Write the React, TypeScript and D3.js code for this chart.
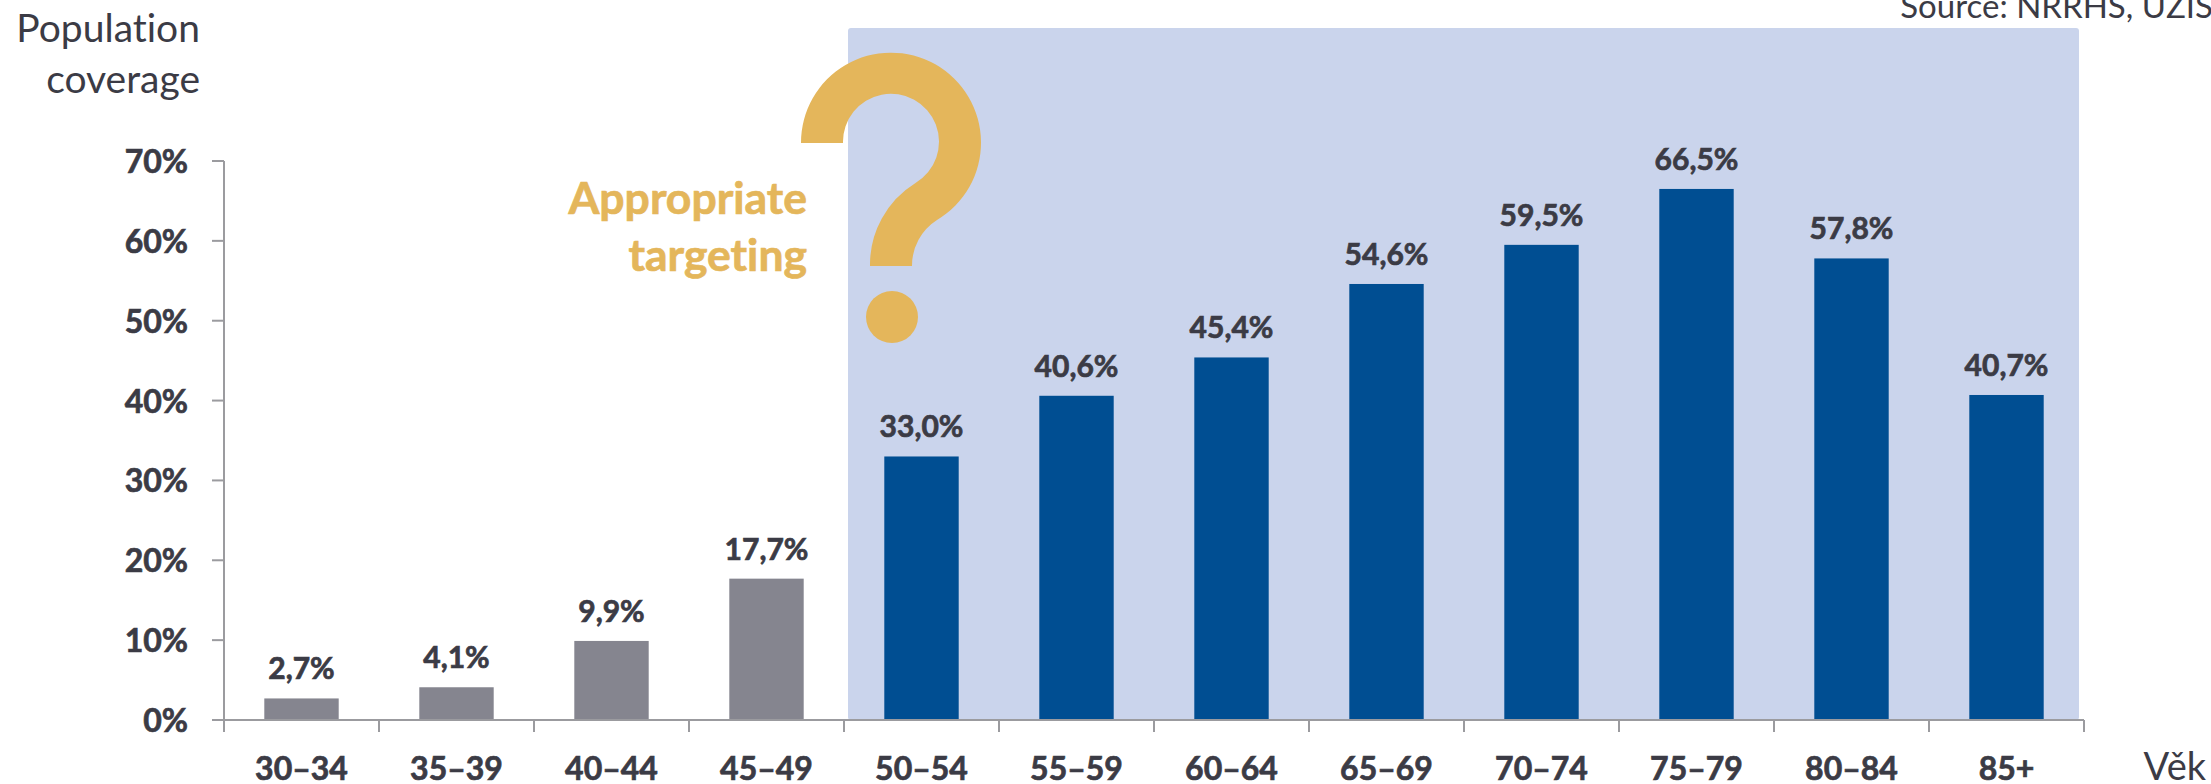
import React from "react";
import * as d3 from "d3";

const ageGroups = ["30–34", "35–39", "40–44", "45–49", "50–54", "55–59", "60–64", "65–69", "70–74", "75–79", "80–84", "85+"];
const coverage = [2.7, 4.1, 9.9, 17.7, 33.0, 40.6, 45.4, 54.6, 59.5, 66.5, 57.8, 40.7];
const targetedGroups = ["50–54", "55–59", "60–64", "65–69", "70–74", "75–79", "80–84", "85+"];
const percentTicks = [0, 10, 20, 30, 40, 50, 60, 70];

const WIDTH = 2211;
const HEIGHT = 784;
const INK = "#3b3b45";
const AXIS = "#9b9b9f";
const GOLD = "#e4b65b";
const FONT = "Lato, 'Noto Sans', sans-serif";

const x = d3.scaleBand<string>().domain(ageGroups).range([224, 2084]).paddingInner(0.52).paddingOuter(0.26);
const step = x.step();
const y = d3.scaleLinear().domain([0, 70]).range([720, 161]);

const formatPct = (v: number) => v.toFixed(1).replace(".", ",") + "%";

function Label({ px, py, size, bold, anchor, fill = INK, children }: {
  px: number; py: number; size: number; bold?: boolean; anchor: "start" | "middle" | "end"; fill?: string; children: React.ReactNode;
}) {
  return (
    <text
      x={px}
      y={py}
      fontFamily={FONT}
      fontSize={size}
      fontWeight={bold ? 700 : 400}
      textAnchor={anchor}
      fill={fill}
      stroke={bold ? fill : "none"}
      strokeWidth={bold ? 0.7 : 0}
      style={{ fontVariantLigatures: "none" }}
    >
      {children}
    </text>
  );
}

export default function App() {
  return (
    <svg
      width={WIDTH}
      height={HEIGHT}
      viewBox={`0 0 ${WIDTH} ${HEIGHT}`}
      style={{ position: "absolute", left: 0, top: 0, display: "block" }}
    >
      <rect x={848} y={28} width={1231} height={692} rx={3} fill="#cad4ec" />

      {ageGroups.map((g, i) => (
        <rect
          key={g}
          x={x(g)}
          y={y(coverage[i])}
          width={x.bandwidth()}
          height={y(0) - y(coverage[i])}
          fill={targetedGroups.includes(g) ? "#004e92" : "#85858f"}
        />
      ))}

      {/* Axes and their tick marks */}
      <g stroke={AXIS} strokeWidth={2} fill="none">
        <line x1={224} x2={224} y1={y(70)} y2={732} />
        {percentTicks.map((t) => (
          <line key={t} x1={212} x2={224} y1={y(t)} y2={y(t)} />
        ))}
        <line x1={212} x2={2084} y1={y(0)} y2={y(0)} />
        {d3.range(ageGroups.length + 1).map((i) => (
          <line key={i} x1={224 + i * step} x2={224 + i * step} y1={720} y2={732} />
        ))}
      </g>

      {percentTicks.map((t) => (
        <Label key={t} px={188} py={y(t) + 12} size={32} bold anchor="end">{t}%</Label>
      ))}

      {ageGroups.map((g) => (
        <Label key={g} px={(x(g) as number) + x.bandwidth() / 2} py={780} size={32} bold anchor="middle">{g}</Label>
      ))}

      {ageGroups.map((g, i) => (
        <Label key={g} px={(x(g) as number) + x.bandwidth() / 2} py={y(coverage[i]) - 19} size={30} bold anchor="middle">
          {formatPct(coverage[i])}
        </Label>
      ))}

      <Label px={200} py={41.5} size={39} anchor="end">Population</Label>
      <Label px={200} py={92.5} size={39} anchor="end">coverage</Label>
      <Label px={2213} py={18} size={33} anchor="end">Source: NRRHS, ÚZIS</Label>
      <Label px={2206} py={780} size={38} anchor="end">Věk</Label>

      <Label px={807} py={214} size={44.5} bold anchor="end" fill={GOLD}>Appropriate</Label>
      <Label px={807} py={271} size={44.5} bold anchor="end" fill={GOLD}>targeting</Label>

      {/* Question mark overlay */}
      <path
        fill={GOLD}
        d="M801,143 A90,90 0 1 1 937,220 A54,54 0 0 0 912,266 L870,266 A96,96 0 0 1 915.5,183 A48,48 0 1 0 843,143 Z"
      />
      <circle cx={892} cy={317} r={26} fill={GOLD} />
    </svg>
  );
}
